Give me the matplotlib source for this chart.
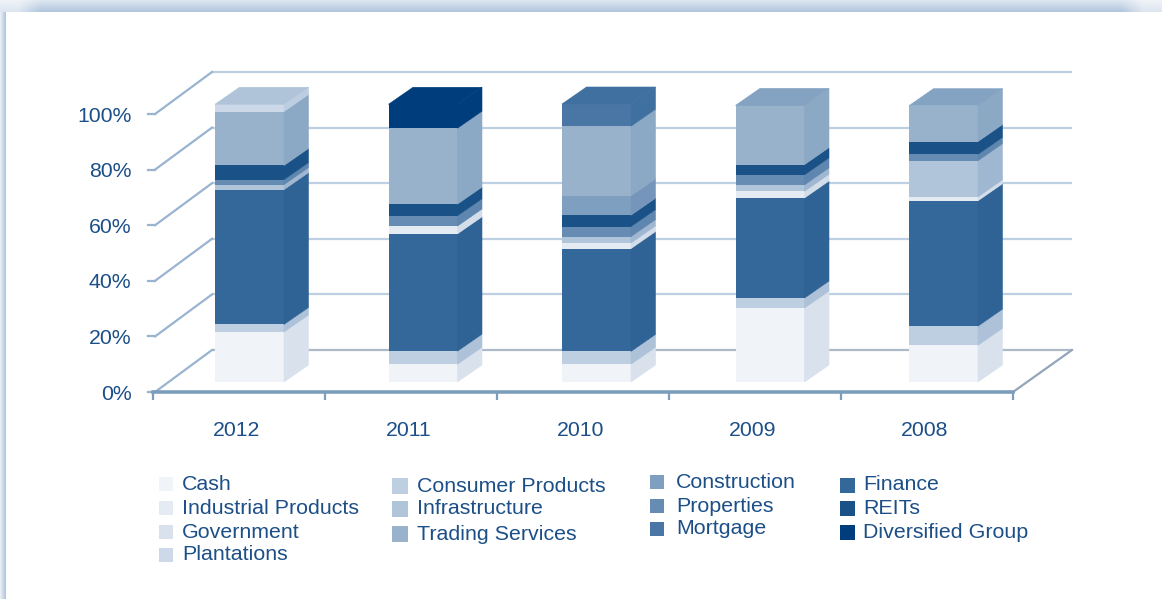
import numpy as np
import matplotlib
matplotlib.use("Agg")
import matplotlib.pyplot as plt
from matplotlib.patches import Rectangle

plt.rcParams['font.family'] = ['Liberation Sans', 'DejaVu Sans']

years = ["2012", "2011", "2010", "2009", "2008"]
y_ticks = [0, 20, 40, 60, 80, 100]

# stacking order, bottom to top (percent per year)
cash = [18.0, 6.4, 6.4, 26.6, 13.2]
consumer = [2.7, 4.7, 4.6, 3.6, 6.9]
finance = [48.5, 42.2, 37.0, 36.0, 45.1]
industrial = [0, 2.8, 2.0, 2.4, 1.4]
infrastructure = [1.8, 0, 2.3, 2.3, 13.0]
properties = [1.8, 3.7, 3.6, 3.6, 2.3]
reits = [5.1, 4.2, 4.1, 3.7, 4.6]
construction = [0, 0, 7.0, 0, 0]
trading = [19.4, 27.3, 25.0, 21.3, 12.9]
mortgage = [0, 0, 8.0, 0, 0]
diversified = [0, 8.6, 0, 0, 0]
plantations = [2.6, 0, 0, 0, 0]
government = [0, 0, 0, 0, 0]

# name, values, front colour, side colour, top colour
series = [
    ("Cash", cash, "#f0f4f8", "#d9e1ed", "#e6ebf2"),
    ("Consumer Products", consumer, "#bdcfe0", "#adc1d8", "#adc1d8"),
    ("Finance", finance, "#34679a", "#2f6396", "#2f6396"),
    ("Industrial Products", industrial, "#e4ebf3", "#d3deea", "#d3deea"),
    ("Infrastructure", infrastructure, "#b1c5da", "#9fb7d1", "#9fb7d1"),
    ("Properties", properties, "#668cb3", "#5f86ae", "#5f86ae"),
    ("REITs", reits, "#1a5288", "#1a5288", "#1a5288"),
    ("Construction", construction, "#7f9fc0", "#7596ba", "#7596ba"),
    ("Trading Services", trading, "#98b2cc", "#8ba8c5", "#84a2c1"),
    ("Mortgage", mortgage, "#4a76a5", "#40709f", "#40709f"),
    ("Diversified Group", diversified, "#003d7d", "#003d7d", "#003d7d"),
    ("Plantations", plantations, "#cdd9e8", "#bccee0", "#afc4d9"),
    ("Government", government, "#d8e1ec", "#c8d5e4", "#c8d5e4"),
]
legend_colors = {s[0]: s[2] for s in series}

W, H = 1162, 599
fig = plt.figure(figsize=(W / 100, H / 100), dpi=100)

# soft frame along the top and left edge
bg = fig.add_axes([0, 0, 1, 1], zorder=0)
img = np.ones((H, W, 3))
shade = np.array([0.70, 0.78, 0.87])
fade = np.clip(np.minimum(np.arange(W), W - 1 - np.arange(W)) / 40, 0.45, 1)
for r in range(12):
    strength = (0.45 + 0.55 * r / 11) * fade
    img[r, :] = 1 - (1 - shade) * strength[:, None]
for c in range(6):
    img[12:, c] = 1 - (1 - shade) * (0.3 + 0.7 * c / 5)
bg.imshow(img, aspect="auto", extent=[0, W, H, 0])
bg.axis("off")

ax = fig.add_axes([153 / W, (H - 392) / H, 860 / W, 278 / H], zorder=1)
ax.patch.set_alpha(0)
ax.set_xlim(0, 5)
ax.set_ylim(0, 100)

px_x = 5 / 860
px_y = 100 / 278

# oblique offsets
wall_dx, wall_dy = 59 * px_x, 42 * px_y
bar_w = 69 * px_x
bar_x0 = 62 * px_x
bar_step = 173.5 * px_x
bar_y0 = 10 * px_y
bar_dx, bar_dy = 24.5 * px_x, 17 * px_y

grid_col = "#bccfe3"
diag_col = "#98b4cf"
for t in y_ticks:
    c = "#aeb9c8" if t == 0 else grid_col
    ax.plot([wall_dx, 5 + wall_dx], [t + wall_dy, t + wall_dy], color=c, lw=1.6,
            clip_on=False, zorder=1, solid_capstyle="butt")
    ax.plot([0.012, wall_dx], [t, t + wall_dy], color=diag_col, lw=1.6,
            clip_on=False, zorder=1)
    ax.plot([-5 * px_x, 0.012], [t, t], color=diag_col, lw=1.6,
            clip_on=False, zorder=1)
ax.plot([5, 5 + wall_dx], [0, wall_dy], color="#94a5ba", lw=1.6, clip_on=False, zorder=1)

for i in range(len(years)):
    x0 = i * bar_step + bar_x0
    x1 = x0 + bar_w
    base = bar_y0
    last = None
    for name, vals, front, side, top in series:
        v = vals[i]
        if v == 0:
            continue
        ax.bar(x0, v, width=bar_w, bottom=base, align="edge", color=front,
               linewidth=0, clip_on=False, zorder=3)
        ax.fill([x1, x1 + bar_dx, x1 + bar_dx, x1],
                [base, base + bar_dy, base + v + bar_dy, base + v],
                facecolor=side, edgecolor=side, lw=0.4, clip_on=False, zorder=3)
        base += v
        last = top
    ax.fill([x0, x1, x1 + bar_dx, x0 + bar_dx],
            [base, base, base + bar_dy, base + bar_dy],
            facecolor=last, edgecolor=last, lw=0.4, clip_on=False, zorder=3)

for s in ["top", "right", "left"]:
    ax.spines[s].set_visible(False)
ax.spines["bottom"].set_color("#7d9dbd")
ax.spines["bottom"].set_linewidth(2.6)
ax.spines["bottom"].set_zorder(4)

ax.set_xticks(np.arange(0, 6))
ax.set_xticklabels([])
ax.tick_params(axis="x", which="major", length=6, width=1.6, color="#7d9dbd")
ax.set_xticks(np.arange(5) + 0.5 - 2 * px_x, labels=years, minor=True)
ax.tick_params(axis="x", which="minor", length=0, pad=21, labelsize=15.3, labelcolor="#1c4f87")
ax.set_yticks(y_ticks, labels=[f"{t}%" for t in y_ticks])
ax.tick_params(axis="y", length=0, pad=15.5, labelsize=15.3, labelcolor="#1c4f87")

# legend, placed by hand because the columns sit slightly out of line
legend_cols = [
    (159, 182, 14, ["Cash", "Industrial Products", "Government", "Plantations"], [484, 508, 532, 555]),
    (392, 417, 16, ["Consumer Products", "Infrastructure", "Trading Services"], [486, 509, 534]),
    (650, 676, 14, ["Construction", "Properties", "Mortgage"], [482, 506, 529]),
    (840, 863, 15, ["Finance", "REITs", "Diversified Group"], [485, 508, 532]),
]
for sq_x, txt_x, size, names, rows in legend_cols:
    for name, row in zip(names, rows):
        fig.add_artist(Rectangle((sq_x / W, (H - row - size / 2) / H), size / W, size / H,
                                 transform=fig.transFigure, color=legend_colors[name], lw=0))
        fig.text(txt_x / W, (H - row) / H, name, fontsize=15.4, color="#1c4f87",
                 va="center", ha="left")

fig.savefig("out.png", dpi=100)
